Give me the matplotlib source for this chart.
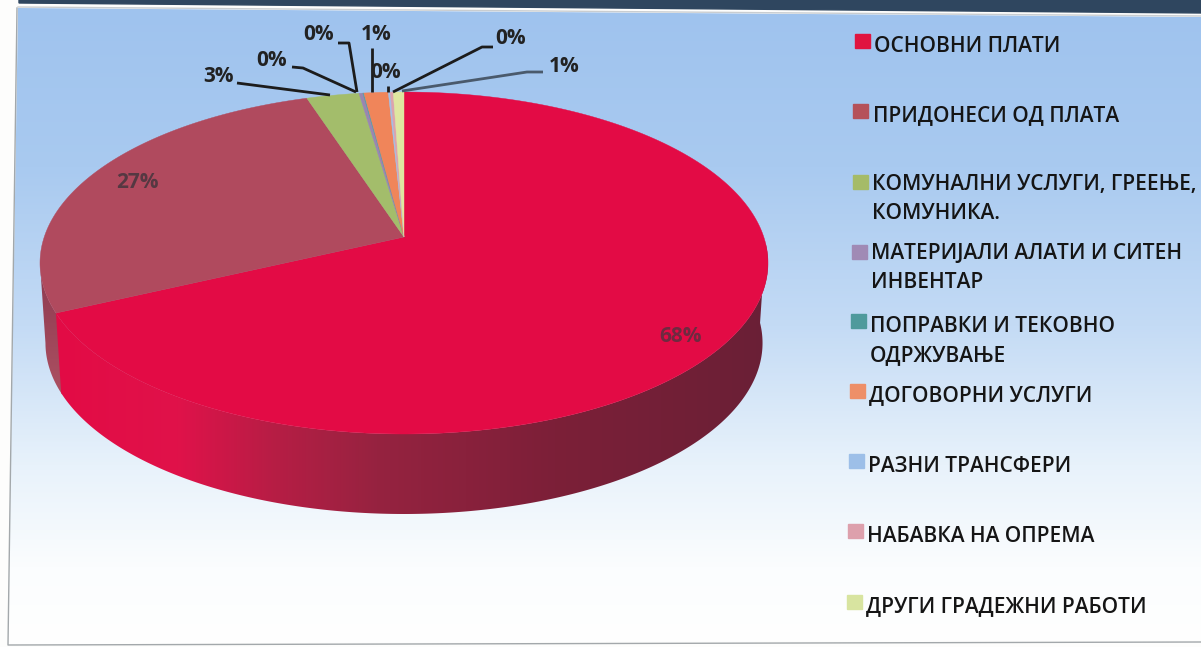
"""Pie chart of budget items, drawn as a tilted 3D pie with a legend on the right."""

import matplotlib

matplotlib.use("Agg")
import matplotlib.pyplot as plt
import numpy as np
from matplotlib.colors import LinearSegmentedColormap
from matplotlib.patches import Polygon, Rectangle

plt.rcParams["font.family"] = ["Open Sans", "DejaVu Sans"]

categories = [
    "ОСНОВНИ ПЛАТИ",
    "ПРИДОНЕСИ ОД ПЛАТА",
    "КОМУНАЛНИ УСЛУГИ, ГРЕЕЊЕ,\nКОМУНИКА.",
    "МАТЕРИЈАЛИ АЛАТИ И СИТЕН\nИНВЕНТАР",
    "ПОПРАВКИ И ТЕКОВНО\nОДРЖУВАЊЕ",
    "ДОГОВОРНИ УСЛУГИ",
    "РАЗНИ ТРАНСФЕРИ",
    "НАБАВКА НА ОПРЕМА",
    "ДРУГИ ГРАДЕЖНИ РАБОТИ",
]
values = [68.0, 27.0, 2.7, 0.2, 0.05, 1.25, 0.1, 0.15, 0.55]
colors = ["#e30b45", "#b04a5e", "#a3bd6b", "#9a86b0", "#4f9ea6",
          "#f0855a", "#a5bfe6", "#dda3ad", "#dfe6a0"]
legend_colors = ["#e0143f", "#b5525a", "#a5bb68", "#a08ab5", "#4f9a9c",
                 "#ee8f68", "#9dbfe8", "#dda0ac", "#d8e4a0"]

# ellipse of the top face, in image pixels
CX, CY, RX, RY = 404, 263, 364, 171
APEX_V = -0.152  # perspective shift of the pie centre
DEPTH = 80
SHRINK = 0.985  # bottom rim is a little narrower than the top one

W, H = 1201, 647


def rim(angle):
    """Map clockwise angles from 12 o'clock to the perspective ellipse."""
    u, v = np.sin(angle), -np.cos(angle)
    den = 1 + APEX_V * v
    return (CX + RX * u * np.sqrt(1 - APEX_V**2) / den,
            CY + RY * (v + APEX_V) / den)


def wall(t):
    """Outline of the side wall under the rim angles t."""
    x, y = rim(t)
    xb = CX + (x - CX) * SHRINK
    return np.column_stack([np.r_[x, xb[::-1]], np.r_[y, y[::-1] + DEPTH]])


def gradient_fill(ax, verts, stops, vertical=False, zorder=3):
    """Fill a polygon with a gradient clipped to its outline."""
    cmap = LinearSegmentedColormap.from_list("g", stops)
    grad = np.linspace(0, 1, 256)
    grad = grad[:, None] if vertical else grad[None, :]
    xs, ys = verts[:, 0], verts[:, 1]
    im = ax.imshow(grad, cmap=cmap, aspect="auto", zorder=zorder,
                   extent=(xs.min(), xs.max(), ys.max(), ys.min()))
    clip = Polygon(verts, closed=True, transform=ax.transData, fc="none", ec="none")
    ax.add_patch(clip)
    im.set_clip_path(clip)


fig = plt.figure(figsize=(W / 100, H / 100), dpi=100, facecolor="#fdfdfc")
ax = fig.add_axes([0, 0, 1, 1])

# panel background, the scan is slightly skewed
panel = np.array([[18, 8], [W, 17], [W, 640], [8, 644]], dtype=float)
gradient_fill(ax, panel, [(0, "#9fc3ee"), (0.25, "#a9caf0"), (0.5, "#c4dbf5"),
                          (0.72, "#e8f2fb"), (0.88, "#fbfdfe"), (1, "#ffffff")],
              vertical=True, zorder=1)
ax.plot([17, 8, W], [8, 645, 642], color="#a3a8ab", lw=1, zorder=2)
ax.add_patch(Polygon([(19, 0), (W, 0), (W, 13), (19, 3)], color="#2f465f", zorder=2))
ax.plot([18, W], [7, 16], color="#c9cdd0", lw=1, zorder=2)

edges = np.cumsum([0] + values) / sum(values) * 2 * np.pi
apex = (CX, CY + RY * APEX_V)

# side wall of the two big slices
t_left = np.linspace(edges[1] - 0.01, edges[2], 300)
t_left = t_left[: np.argmin(rim(t_left)[0]) + 1]
gradient_fill(ax, wall(t_left), [(0, "#8c3a50"), (1, "#ad5062")], vertical=True)

t_front = np.linspace(np.radians(92), edges[1], 300)
gradient_fill(ax, wall(t_front), [(0, "#e30b45"), (0.17, "#e0124a"), (0.3, "#b81d45"),
                                  (0.45, "#962340"), (0.7, "#7c1f38"), (1, "#6a2036")])

# top faces
for start, end, color in zip(edges[:-1], edges[1:], colors):
    t = np.linspace(start, end, max(int((end - start) * 120), 3))
    x, y = rim(t)
    ax.add_patch(Polygon(np.column_stack([np.r_[apex[0], x], np.r_[apex[1], y]]),
                         closed=True, fc=color, ec=color, lw=0.3, zorder=4))

# percentage labels with their leader lines
label_pos = [(681, 336), (137, 181), (218, 76), (272, 59), (319, 34),
             (376, 33), (386, 71), (511, 38), (564, 65)]
label_colors = ["#6e2a40", "#553842"] + ["#222222"] * 7
leaders = [
    None,
    None,
    [(237, 83), (330, 95)],
    [(292, 67), (303, 68), (356, 92)],
    [(338, 43), (349, 43), (357, 92)],
    [(372, 48), (372, 92)],
    [(388, 86), (388, 92)],
    [(493, 47), (482, 47), (393, 92)],
    [(543, 72), (527, 72), (402, 91)],
]
for i, (val, pos, col, lead) in enumerate(zip(values, label_pos, label_colors, leaders)):
    ax.text(pos[0], pos[1] + 1, f"{val:.0f}%", ha="center", va="center", color=col,
            fontsize=15, fontweight="bold", zorder=6)
    if lead:
        lx, ly = zip(*lead)
        ax.plot(lx, ly, color="#4a5a6c" if i == 8 else "#1c1c1c",
                lw=2, zorder=5, solid_capstyle="butt")

# legend
legend_y = [46, 116, 199, 268, 341, 396, 466, 536, 607]
legend_x = [874, 873, 872, 871, 870, 869, 868, 867, 866]
square_y = [41, 111, 182, 252, 321, 391, 461, 531, 602]
square_x = [855, 853, 853, 852, 851, 850, 849, 848, 847]
for name, col, y, x, sy, sx in zip(categories, legend_colors, legend_y, legend_x,
                                   square_y, square_x):
    ax.add_patch(Rectangle((sx, sy - 7), 15, 14, color=col, zorder=5))
    ax.text(x, y, name, ha="left", va="center", fontsize=15, color="#151515",
            fontweight="semibold", linespacing=1.52, zorder=6)

ax.set_xlim(0, W)
ax.set_ylim(H, 0)
ax.axis("off")

fig.savefig("out.png", dpi=100, facecolor=fig.get_facecolor())
